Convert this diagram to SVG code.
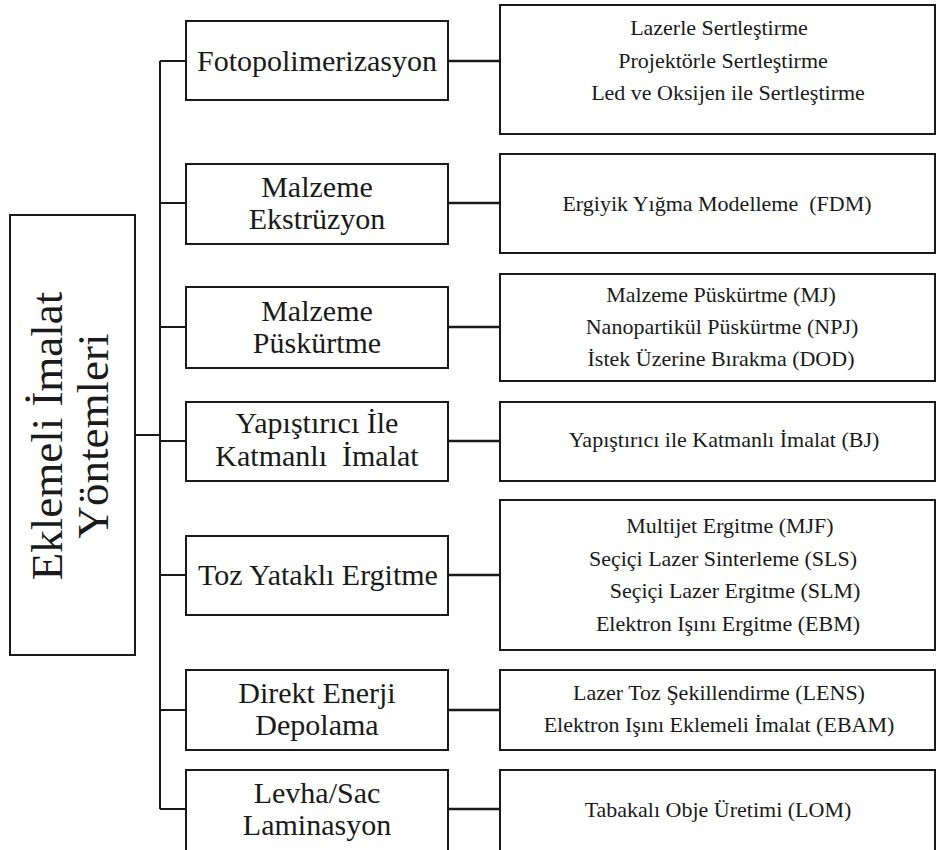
<svg xmlns="http://www.w3.org/2000/svg" width="937" height="850" viewBox="0 0 937 850">
<style>
.box{fill:#fff;stroke:#1a1a1a;stroke-width:2}
.ln{fill:none;stroke:#1a1a1a;stroke-width:2}
.ln2{fill:none;stroke:#1a1a1a;stroke-width:2.5}
.t{font-family:'Liberation Serif','Times New Roman',serif;fill:#1a1a1a;text-anchor:middle}
.big{font-size:45px}
.mid{font-size:30px}
.sm{font-size:22px}
</style>
<rect width="937" height="850" fill="#fff"/>
<g id="connectors">
<path class="ln" d="M135 435 H160"/>
<path class="ln" d="M160 61 V809"/>
<path class="ln" d="M160 61 H186 M160 203 H186 M160 327 H186 M160 441 H186 M160 575 H186 M160 710 H186 M160 809 H186"/>
<path class="ln2" d="M448 61 H500 M448 203 H500 M448 327 H500 M448 441 H500 M448 575 H500 M448 710 H500 M448 809 H500"/>
</g>
<g id="root" class="t big" font-family="Liberation Serif, serif">
<rect class="box" x="10" y="215" width="125" height="440"/>
<text x="62" y="436" transform="rotate(-90 62 436)">Eklemeli İmalat</text>
<text x="108" y="436" transform="rotate(-90 108 436)">Yöntemleri</text>
</g>
<g id="fotopolimerizasyon" class="t mid" font-family="Liberation Serif, serif">
<rect class="box" x="186" y="21" width="262" height="79"/>
<text x="317" y="71">Fotopolimerizasyon</text>
</g>
<g id="malzeme-ekstruzyon" class="t mid" font-family="Liberation Serif, serif">
<rect class="box" x="186" y="164" width="262" height="80"/>
<text x="317" y="197">Malzeme</text>
<text x="317" y="229">Ekstrüzyon</text>
</g>
<g id="malzeme-puskurtme" class="t mid" font-family="Liberation Serif, serif">
<rect class="box" x="186" y="287" width="262" height="81"/>
<text x="317" y="321">Malzeme</text>
<text x="317" y="353">Püskürtme</text>
</g>
<g id="yapistirici" class="t mid" font-family="Liberation Serif, serif">
<rect class="box" x="186" y="402" width="262" height="79"/>
<text x="317" y="433">Yapıştırıcı İle</text>
<text x="317" y="466" xml:space="preserve">Katmanlı  İmalat</text>
</g>
<g id="toz-yatakli" class="t mid" font-family="Liberation Serif, serif">
<rect class="box" x="186" y="536" width="262" height="79"/>
<text x="318" y="585">Toz Yataklı Ergitme</text>
</g>
<g id="direkt-enerji" class="t mid" font-family="Liberation Serif, serif">
<rect class="box" x="186" y="670" width="262" height="80"/>
<text x="317" y="703">Direkt Enerji</text>
<text x="317" y="735">Depolama</text>
</g>
<g id="levha-sac" class="t mid" font-family="Liberation Serif, serif">
<rect class="box" x="186" y="770" width="262" height="84"/>
<text x="317" y="803">Levha/Sac</text>
<text x="317" y="835">Laminasyon</text>
</g>
<g id="r-fotopolimerizasyon" class="t sm" font-family="Liberation Serif, serif">
<rect class="box" x="500" y="5" width="435" height="129"/>
<text x="719" y="35">Lazerle Sertleştirme</text>
<text x="723" y="68">Projektörle Sertleştirme</text>
<text x="728" y="100">Led ve Oksijen ile Sertleştirme</text>
</g>
<g id="r-ekstruzyon" class="t sm" font-family="Liberation Serif, serif">
<rect class="box" x="500" y="154" width="435" height="99"/>
<text x="717" y="211" xml:space="preserve">Ergiyik Yığma Modelleme  (FDM)</text>
</g>
<g id="r-puskurtme" class="t sm" font-family="Liberation Serif, serif">
<rect class="box" x="500" y="274" width="435" height="107"/>
<text x="721" y="302">Malzeme Püskürtme (MJ)</text>
<text x="722" y="334">Nanopartikül Püskürtme (NPJ)</text>
<text x="721" y="366">İstek Üzerine Bırakma (DOD)</text>
</g>
<g id="r-yapistirici" class="t sm" font-family="Liberation Serif, serif">
<rect class="box" x="500" y="402" width="435" height="79"/>
<text x="724" y="447">Yapıştırıcı ile Katmanlı İmalat (BJ)</text>
</g>
<g id="r-toz" class="t sm" font-family="Liberation Serif, serif">
<rect class="box" x="500" y="500" width="435" height="150"/>
<text x="730" y="533">Multijet Ergitme (MJF)</text>
<text x="723" y="566">Seçiçi Lazer Sinterleme (SLS)</text>
<text x="735" y="598">Seçiçi Lazer Ergitme (SLM)</text>
<text x="728" y="631">Elektron Işını Ergitme (EBM)</text>
</g>
<g id="r-direkt" class="t sm" font-family="Liberation Serif, serif">
<rect class="box" x="500" y="670" width="435" height="80"/>
<text x="719" y="700">Lazer Toz Şekillendirme (LENS)</text>
<text x="719" y="732">Elektron Işını Eklemeli İmalat (EBAM)</text>
</g>
<g id="r-levha" class="t sm" font-family="Liberation Serif, serif">
<rect class="box" x="500" y="770" width="435" height="84"/>
<text x="718" y="817">Tabakalı Obje Üretimi (LOM)</text>
</g>
</svg>
